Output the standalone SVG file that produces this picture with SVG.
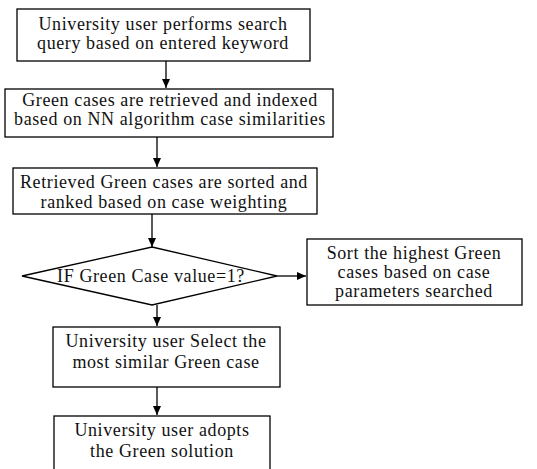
<svg xmlns="http://www.w3.org/2000/svg" width="537" height="469" viewBox="0 0 537 469">
<defs>
<style>
.box{fill:#fff;stroke:#000;stroke-width:1.3}
.t{font-family:"Liberation Serif","Times New Roman",serif;font-size:18px;letter-spacing:0.6px;fill:#111;text-anchor:middle}
.c{stroke:#000;stroke-width:1.3;fill:none}
</style>
<marker id="ah" markerWidth="10" markerHeight="10" refX="9" refY="5" orient="auto" markerUnits="userSpaceOnUse">
<path d="M0,1 L9,5 L0,9 Z" fill="#000"/>
</marker>
</defs>
<rect width="537" height="469" fill="#fff"/>
<g id="connectors">
<line class="c" x1="166" y1="61" x2="166" y2="88" marker-end="url(#ah)"/>
<line class="c" x1="157" y1="137" x2="157" y2="167" marker-end="url(#ah)"/>
<line class="c" x1="152" y1="214" x2="152" y2="247" marker-end="url(#ah)"/>
<line class="c" x1="277" y1="276" x2="306" y2="276" marker-end="url(#ah)"/>
<line class="c" x1="157" y1="305" x2="157" y2="326" marker-end="url(#ah)"/>
<line class="c" x1="157" y1="387" x2="157" y2="415" marker-end="url(#ah)"/>
</g>
<g id="n1">
<rect class="box" x="17" y="9" width="293" height="52"/>
<text class="t" x="163" y="30">University user performs search</text>
<text class="t" x="163" y="49">query based on entered keyword</text>
</g>
<g id="n2">
<rect class="box" x="5" y="89" width="328" height="48"/>
<text class="t" x="170" y="106">Green cases are retrieved and indexed</text>
<text class="t" x="170" y="125">based on NN algorithm case similarities</text>
</g>
<g id="n3">
<rect class="box" x="13" y="168" width="304" height="46"/>
<text class="t" x="164" y="188">Retrieved Green cases are sorted and</text>
<text class="t" x="164" y="208">ranked based on case weighting</text>
</g>
<g id="n4">
<polygon class="box" points="152,247 277,276 152,305 22,276"/>
<text class="t" x="151" y="282">IF Green Case value=1?</text>
</g>
<g id="n5">
<rect class="box" x="307" y="239" width="215" height="66"/>
<text class="t" x="414" y="259">Sort the highest Green</text>
<text class="t" x="414" y="278">cases based on case</text>
<text class="t" x="414" y="297">parameters searched</text>
</g>
<g id="n6">
<rect class="box" x="53" y="327" width="227" height="60"/>
<text class="t" x="166" y="347">University user Select the</text>
<text class="t" x="166" y="368">most similar Green case</text>
</g>
<g id="n7">
<rect class="box" x="54" y="416" width="216" height="60"/>
<text class="t" x="162" y="436">University user adopts</text>
<text class="t" x="162" y="457">the Green solution</text>
</g>
</svg>
